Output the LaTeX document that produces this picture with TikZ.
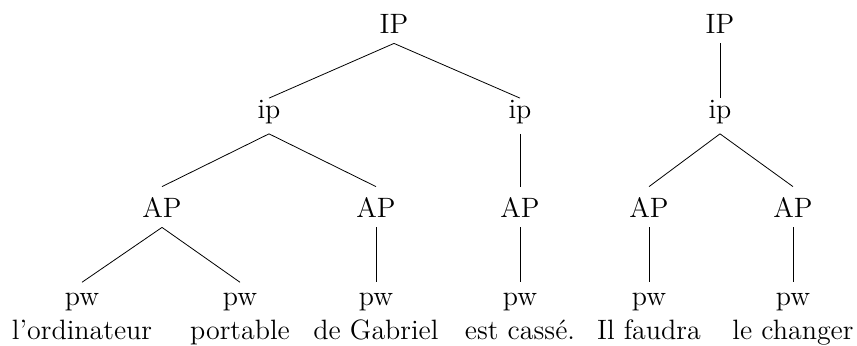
\documentclass[tikz,border=0pt]{standalone}
\usepackage{tikz}
\begin{document}
\begin{tikzpicture}[
    x=0.5pt,y=-0.5pt,
    lab/.style={anchor=base,inner sep=5pt,font=\fontsize{14}{17}\selectfont},
    small/.style={lab,text height=1.1ex},
    word/.style={anchor=base,inner sep=0pt,font=\fontsize{14}{17}\selectfont}
]
\useasboundingbox (0,0) rectangle (857,345);
% first phrase
\node[lab] (IPa) at (394,33) {IP};
\node[small] (ipa) at (269,118) {ip};
\node[small] (ipb) at (520,118) {ip};
\node[lab] (APa) at (162,217) {AP};
\node[lab] (APb) at (376,217) {AP};
\node[lab] (APc) at (520,217) {AP};
\node[lab] (pwa) at (82,305) {pw};
\node[lab] (pwb) at (240,305) {pw};
\node[lab] (pwc) at (376,305) {pw};
\node[lab] (pwd) at (520,305) {pw};
\node[word] (wa) at (82,339) {l'ordinateur};
\node[word] (wb) at (240,339) {portable};
\node[word] (wc) at (376,339) {de Gabriel};
\node[word] (wd) at (520,339) {est cassé.};
% second phrase
\node[lab] (IPb) at (720,33) {IP};
\node[small] (ipc) at (720,118) {ip};
\node[lab] (APd) at (649,217) {AP};
\node[lab] (APe) at (793,217) {AP};
\node[lab] (pwe) at (649,305) {pw};
\node[lab] (pwf) at (793,305) {pw};
\node[word] (we) at (649,339) {Il faudra};
\node[word] (wf) at (793,339) {le changer};
\draw (IPa.south) -- (ipa.north);
\draw (IPa.south) -- (ipb.north);
\draw (ipa.south) -- (APa.north);
\draw (ipa.south) -- (APb.north);
\draw (ipb.south) -- (APc.north);
\draw (APa.south) -- (pwa.north);
\draw (APa.south) -- (pwb.north);
\draw (APb.south) -- (pwc.north);
\draw (APc.south) -- (pwd.north);
\draw (IPb.south) -- (ipc.north);
\draw (ipc.south) -- (APd.north);
\draw (ipc.south) -- (APe.north);
\draw (APd.south) -- (pwe.north);
\draw (APe.south) -- (pwf.north);
\end{tikzpicture}
\end{document}
